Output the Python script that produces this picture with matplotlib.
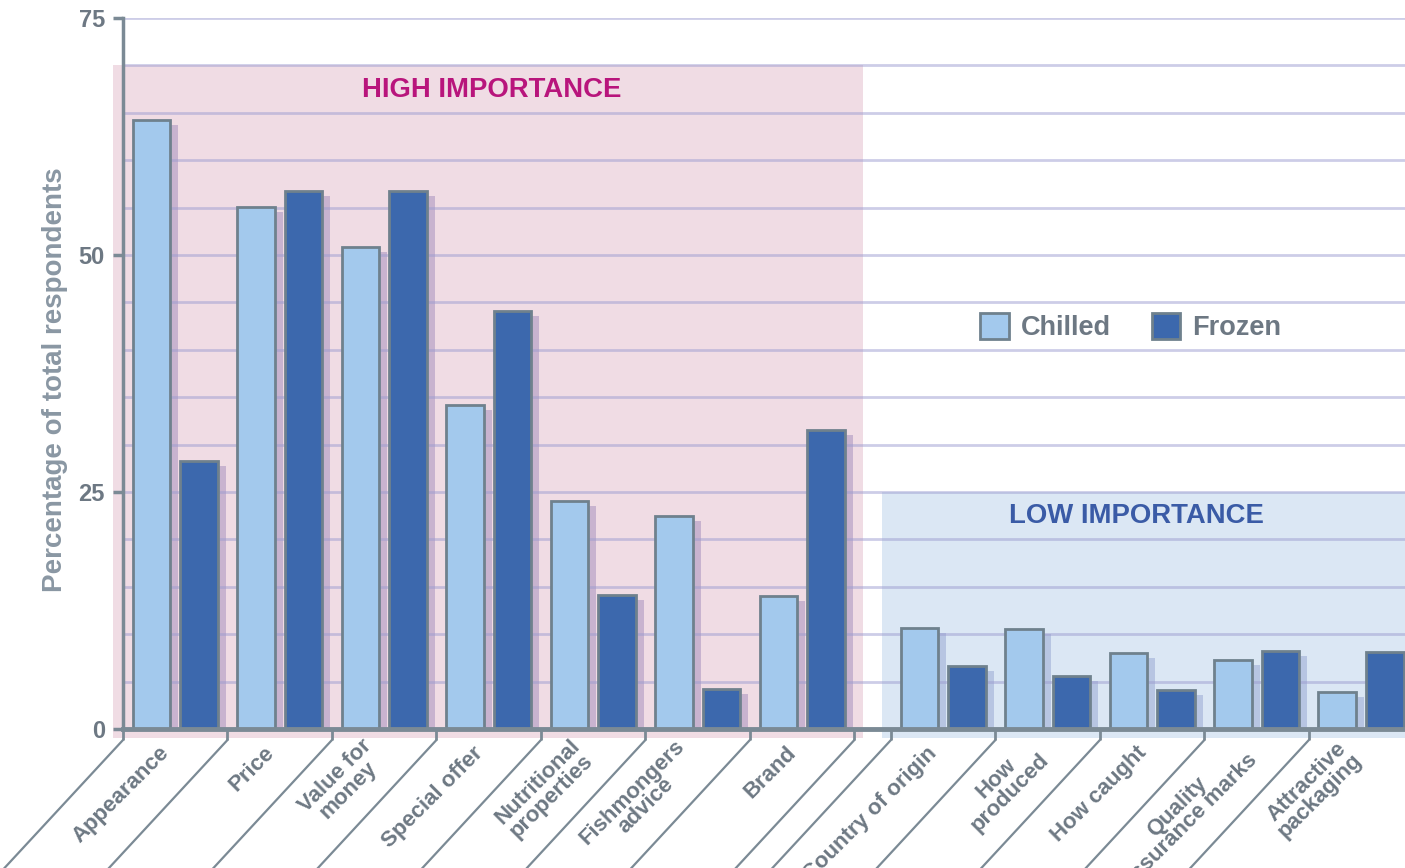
import matplotlib
matplotlib.use("Agg")
import matplotlib.pyplot as plt
from matplotlib.transforms import offset_copy
from matplotlib.patches import Rectangle

# ---- data ----
high_categories = ["Appearance", "Price", "Value for\nmoney", "Special offer",
                   "Nutritional\nproperties", "Fishmongers\nadvice", "Brand"]
low_categories = ["Country of origin", "How\nproduced", "How caught",
                  "Quality\nassurance marks", "Attractive\npackaging"]
high_chilled = [64.2, 55.1, 50.8, 34.2, 24.1, 22.5, 14.0]
high_frozen = [28.3, 56.8, 56.8, 44.1, 14.1, 4.2, 31.5]
low_chilled = [10.7, 10.5, 8.0, 7.3, 3.9]
low_frozen = [6.6, 5.6, 4.1, 8.2, 8.1]
yticks = [0, 25, 50, 75]
high_band_top = 70
low_band_top = 25

# ---- style ----
BOLD = ["Liberation Sans", "DejaVu Sans"]
REG = ["Liberation Sans", "DejaVu Sans"]
C_CHILL = "#a3c9ed"
C_FROZ = "#3c68ad"
EDGE = "#6f818d"
AXC = "#7b8a95"
TXT = "#6d7883"
PINK = "#f0dce4"
BLUE = "#dbe7f4"
SH_PINK = "#c8b3cf"
SH_BLUE = "#b7c5e2"

fig = plt.figure(figsize=(14.05, 8.68), dpi=100)
ax = fig.add_axes([123 / 1405, 139 / 868, 1 - 123 / 1405, 711 / 868])

gap = 0.35
n_high = len(high_categories)
hx = list(range(n_high))
lx = [n_high + gap + i for i in range(len(low_categories))]
bw = 0.36
off = 0.228

# background bands
ax.add_patch(Rectangle((-0.6, -0.9), (n_high - 0.5 + 0.08) - (-0.6), high_band_top + 0.9,
                       facecolor=PINK, edgecolor="none", zorder=0, clip_on=False))
ax.add_patch(Rectangle((n_high - 0.5 + gap - 0.09, -0.9), 20, low_band_top + 0.9,
                       facecolor=BLUE, edgecolor="none", zorder=0, clip_on=False))

# grid
for g in range(5, 80, 5):
    ax.axhline(g, color="#9c9cd0", alpha=0.5, lw=2.0, zorder=2)

# shadows
sh = offset_copy(ax.transData, fig=fig, x=8, y=-5, units="dots")
ax.bar([x - off for x in hx], high_chilled, bw, color=SH_PINK, transform=sh, zorder=1)
ax.bar([x + off for x in hx], high_frozen, bw, color=SH_PINK, transform=sh, zorder=1)
ax.bar([x - off for x in lx], low_chilled, bw, color=SH_BLUE, transform=sh, zorder=1)
ax.bar([x + off for x in lx], low_frozen, bw, color=SH_BLUE, transform=sh, zorder=1)

# bars
b1 = ax.bar([x - off for x in hx + lx], high_chilled + low_chilled, bw, color=C_CHILL,
            edgecolor=EDGE, lw=2, zorder=3, label="Chilled")
b2 = ax.bar([x + off for x in hx + lx], high_frozen + low_frozen, bw, color=C_FROZ,
            edgecolor=EDGE, lw=2, zorder=3, label="Frozen")

# spines / ticks
for s in ["top", "right"]:
    ax.spines[s].set_visible(False)
ax.spines["left"].set_color(AXC)
ax.spines["left"].set_linewidth(2.5)
ax.spines["bottom"].set_color(AXC)
ax.spines["bottom"].set_linewidth(3.5)
ax.spines["left"].set_zorder(5)
ax.spines["bottom"].set_zorder(5)
ax.set_yticks(yticks)
ax.set_yticklabels([str(v) for v in yticks], family=BOLD, fontweight="bold",
                   fontsize=17, color=TXT)
ax.tick_params(axis="y", length=7, width=2.5, color=AXC, pad=6)

bounds = [x - 0.5 for x in hx] + [n_high - 0.5] + [x - 0.5 for x in lx]
ax.set_xticks(bounds)
ax.set_xticklabels([])
ax.tick_params(axis="x", length=8, width=2, color=AXC)

ax.set_xlim(-0.5, 11.77)
ax.set_ylim(0, 75)

# slanted separator lines
tr = offset_copy(ax.transData, fig=fig, x=0, y=-11, units="dots")
for b in bounds:
    ax.annotate("", xy=(b, 0), xycoords=tr, xytext=(-125, -135), textcoords="offset pixels",
                arrowprops=dict(arrowstyle="-", color=AXC, lw=1.6, shrinkA=0, shrinkB=0),
                annotation_clip=False)

# category labels
for x, lab in zip(hx + lx, high_categories + low_categories):
    ax.annotate(lab, xy=(x, 0), xycoords="data", xytext=(-9, -21), textcoords="offset pixels",
                ha="right", va="center", rotation=45, rotation_mode="anchor",
                multialignment="center", family=BOLD, fontweight="bold", fontsize=16,
                color=TXT, linespacing=0.9, annotation_clip=False)

# band titles
ax.text(3.03, 67.4, "HIGH IMPORTANCE", ha="center", va="center", family=BOLD,
        fontweight="bold", fontsize=19.8, color="#b8157c", zorder=6)
ax.text(9.2, 22.5, "LOW IMPORTANCE", ha="center", va="center", family=BOLD,
        fontweight="bold", fontsize=19.8, color="#3a5ba6", zorder=6)

# legend
leg = ax.legend(handles=[b1, b2], loc="center", bbox_to_anchor=(0.786, 0.565), ncol=2,
                frameon=False, handlelength=1.05, handleheight=1.05, handletextpad=0.45,
                columnspacing=1.5, prop=dict(family=BOLD, weight="bold", size=19.5))
for t in leg.get_texts():
    t.set_color(TXT)

fig.text(55 / 1405, (868 - 380) / 868, "Percentage of total respondents", rotation=90,
         ha="center", va="center", family=REG, fontweight="bold", fontsize=20,
         color="#8a97a3")

fig.savefig("out.png", dpi=100)
